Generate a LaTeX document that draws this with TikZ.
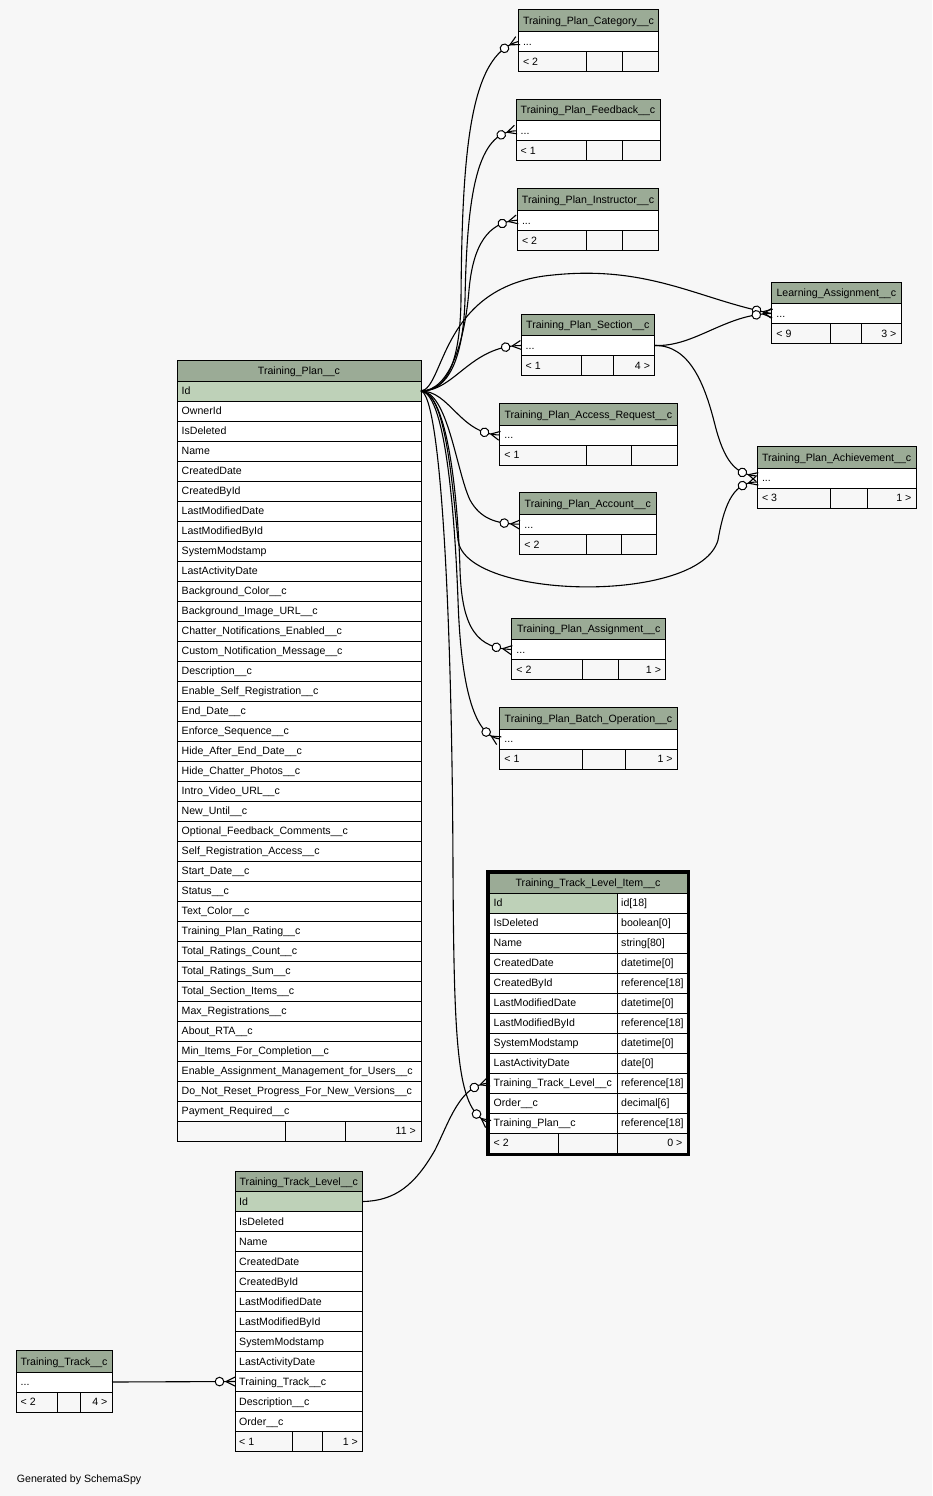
\documentclass[tikz,border=0pt]{standalone}
\usepackage{fontspec}
\setmainfont{Liberation Sans}
\usetikzlibrary{decorations.markings}
\definecolor{bg}{HTML}{F7F7F7}
\definecolor{hdr}{HTML}{9BAB96}
\definecolor{pk}{HTML}{BED1B8}
\tikzset{
  cell/.style={draw=black, line width=1pt, anchor=north west, inner sep=0pt, outer sep=0pt},
  cellline/.style={draw=black, line width=1pt},
  ltxt/.style={anchor=base west, inner sep=0pt, font=\fontsize{10.6}{12.7}\selectfont},
  rtxt/.style={anchor=base east, inner sep=0pt, font=\fontsize{10.6}{12.7}\selectfont},
  ctxt/.style={anchor=base, inner sep=0pt, font=\fontsize{10.6}{12.7}\selectfont},
  rel/.style={draw=black, line width=1.1pt},
  crowend/.style={postaction={decorate, decoration={markings,
      mark=at position -15.5pt with {\draw[fill=white, line width=1pt] (0,0) circle (4.3pt);},
      mark=at position -9pt with {\draw[line width=1.1pt] (0,0) -- (9pt,4.5pt) (0,0) -- (9pt,-4.5pt);}}}}
}
% compact table: name, left, right, top, title, divider 1, divider 2, left count, right count
\newcommand\stab[9]{%
  \node[cell, fill=hdr, minimum width={(#3-#2)*1pt}, minimum height=21.5pt] (#1-h) at (#2,#4) {};
  \node[ctxt] (#1-ht) at ({(#2+#3)/2},{#4+10.75+3.8}) {#5};
  \node[cell, fill=white, minimum width={(#3-#2)*1pt}, minimum height=20pt] (#1-r) at (#2,{#4+21.5}) {};
  \node[ltxt] (#1-rt) at ({#2+4.5},{#4+31.5+3.8}) {...};
  \node[cell, fill=bg, minimum width={(#3-#2)*1pt}, minimum height=20pt] (#1-f) at (#2,{#4+41.5}) {};
  \draw[cellline] (#6,{#4+41.5}) -- (#6,{#4+61.5}) (#7,{#4+41.5}) -- (#7,{#4+61.5});
  \node[ltxt] (#1-fl) at ({#2+4.5},{#4+51.5+3.8}) {#8};
  \node[rtxt] (#1-fr) at ({#3-4.5},{#4+51.5+3.8}) {#9};
}
\begin{document}
\catcode`\_=12
\begin{tikzpicture}[x=1pt, y=-1pt]
\useasboundingbox (0,0) rectangle (932,1496);
\fill[bg] (0,0) rectangle (932,1496);

% ---- Training_Plan__c ----
\node[cell, fill=hdr, minimum width=244pt, minimum height=21pt] (tp-h) at (177,360) {};
\node[ctxt] (tp-ht) at (299,{370.5+3.8}) {Training_Plan__c};
\node[cell, fill=pk, minimum width=244pt, minimum height=20pt] (tp-0) at (177,381) {};
\node[ltxt] (tp-0-t) at (181.5,{391+3.8}) {Id};
\foreach \f [count=\i from 1] in {OwnerId,IsDeleted,Name,CreatedDate,CreatedById,LastModifiedDate,LastModifiedById,SystemModstamp,LastActivityDate,Background_Color__c,Background_Image_URL__c,Chatter_Notifications_Enabled__c,Custom_Notification_Message__c,Description__c,Enable_Self_Registration__c,End_Date__c,Enforce_Sequence__c,Hide_After_End_Date__c,Hide_Chatter_Photos__c,Intro_Video_URL__c,New_Until__c,Optional_Feedback_Comments__c,Self_Registration_Access__c,Start_Date__c,Status__c,Text_Color__c,Training_Plan_Rating__c,Total_Ratings_Count__c,Total_Ratings_Sum__c,Total_Section_Items__c,Max_Registrations__c,About_RTA__c,Min_Items_For_Completion__c,Enable_Assignment_Management_for_Users__c,Do_Not_Reset_Progress_For_New_Versions__c,Payment_Required__c} {
  \node[cell, fill=white, minimum width=244pt, minimum height=20pt] (tp-\i) at (177,{381+20*\i}) {};
  \node[ltxt] (tp-\i-t) at (181.5,{391+20*\i+3.8}) {\f};
}
\node[cell, fill=bg, minimum width=244pt, minimum height=20pt] (tp-f) at (177,1121) {};
\draw[cellline] (285,1121) -- (285,1141) (345,1121) -- (345,1141);
\node[rtxt] (tp-fr) at (416,{1131+3.8}) {11 >};

% ---- related compact tables ----
\stab{cat}{518.3}{658.7}{10}{Training_Plan_Category__c}{586.7}{622.7}{< 2}{}
\stab{fb}{516}{660}{99.3}{Training_Plan_Feedback__c}{586.7}{622.7}{< 1}{}
\stab{ins}{517.3}{658.7}{188.7}{Training_Plan_Instructor__c}{586.7}{622.7}{< 2}{}
\stab{la}{771.7}{901}{282}{Learning_Assignment__c}{830.7}{861}{< 9}{3 >}
\stab{sec}{521}{654.7}{314}{Training_Plan_Section__c}{581}{613.3}{< 1}{4 >}
\stab{ar}{499.7}{677}{403.5}{Training_Plan_Access_Request__c}{586.7}{631.7}{< 1}{}
\stab{ach}{757.3}{916}{446.5}{Training_Plan_Achievement__c}{830.7}{867.7}{< 3}{1 >}
\stab{acc}{519.7}{656}{492.7}{Training_Plan_Account__c}{586.3}{621.3}{< 2}{}
\stab{asg}{511.7}{665.7}{618}{Training_Plan_Assignment__c}{582.7}{618.7}{< 2}{1 >}
\stab{bat}{499.7}{677.3}{707.5}{Training_Plan_Batch_Operation__c}{582.7}{625.3}{< 1}{1 >}
\stab{tt}{16}{112}{1350.5}{Training_Track__c}{57.3}{80}{< 2}{4 >}

% ---- Training_Track_Level_Item__c ----
\node[cell, fill=hdr, minimum width=198pt, minimum height=20pt] (ttli-h) at (489,873) {};
\node[ctxt] (ttli-ht) at (588,{883+3.8}) {Training_Track_Level_Item__c};
\foreach \f/\t [count=\i from 0] in {Id/id[18],IsDeleted/boolean[0],Name/string[80],CreatedDate/datetime[0],CreatedById/reference[18],LastModifiedDate/datetime[0],LastModifiedById/reference[18],SystemModstamp/datetime[0],LastActivityDate/date[0],Training_Track_Level__c/reference[18],Order__c/decimal[6],Training_Plan__c/reference[18]} {
  \node[cell, fill=white, minimum width=128pt, minimum height=20pt] (ttli-\i) at (489,{893+20*\i}) {};
  \node[cell, fill=white, minimum width=70pt, minimum height=20pt] (ttli-\i-ty) at (617,{893+20*\i}) {};
  \node[ltxt] (ttli-\i-t) at (493.5,{903+20*\i+3.8}) {\f};
  \node[ltxt] (ttli-\i-tt) at (621,{903+20*\i+3.8}) {\t};
}
\node[cell, fill=pk, minimum width=128pt, minimum height=20pt] (ttli-pk) at (489,893) {};
\node[ltxt] (ttli-pk-t) at (493.5,{903+3.8}) {Id};
\node[cell, fill=bg, minimum width=198pt, minimum height=20pt] (ttli-f) at (489,1133) {};
\draw[cellline] (558.7,1133) -- (558.7,1153) (617,1133) -- (617,1153);
\node[ltxt] (ttli-fl) at (493.5,{1143+3.8}) {< 2};
\node[rtxt] (ttli-fr) at (682.5,{1143+3.8}) {0 >};
\draw[line width=2.6pt] (487.3,871.3) rectangle (688.7,1154.7);

% ---- Training_Track_Level__c ----
\node[cell, fill=hdr, minimum width=127.5pt, minimum height=20.5pt] (ttl-h) at (235,1171) {};
\node[ctxt] (ttl-ht) at (298.75,{1181.25+3.8}) {Training_Track_Level__c};
\node[cell, fill=pk, minimum width=127.5pt, minimum height=20pt] (ttl-0) at (235,1191.5) {};
\node[ltxt] (ttl-0-t) at (239,{1201.5+3.8}) {Id};
\foreach \f [count=\i from 1] in {IsDeleted,Name,CreatedDate,CreatedById,LastModifiedDate,LastModifiedById,SystemModstamp,LastActivityDate,Training_Track__c,Description__c,Order__c} {
  \node[cell, fill=white, minimum width=127.5pt, minimum height=20pt] (ttl-\i) at (235,{1191.5+20*\i}) {};
  \node[ltxt] (ttl-\i-t) at (239,{1201.5+20*\i+3.8}) {\f};
}
\node[cell, fill=bg, minimum width=127.5pt, minimum height=20pt] (ttl-f) at (235,1431.5) {};
\draw[cellline] (292,1431.5) -- (292,1451.5) (322.5,1431.5) -- (322.5,1451.5);
\node[ltxt] (ttl-fl) at (239,{1441.5+3.8}) {< 1};
\node[rtxt] (ttl-fr) at (358,{1441.5+3.8}) {1 >};

% ---- relationships ----
\draw[rel, crowend] (tp-0.east) .. controls (448,391) and (460,360) .. (461,300) .. controls (462,150) and (470,55) .. (cat-r.west);
\draw[rel, crowend] (tp-0.east) .. controls (448,391) and (463,360) .. (465,300) .. controls (467,190) and (478,132) .. (fb-r.west);
\draw[rel, crowend] (tp-0.east) .. controls (450,391) and (465,340) .. (469,290) .. controls (473,245) and (488,222) .. (ins-r.west);
\draw[rel, crowend] (tp-0.east) .. controls (445,388) and (440,285) .. (553,275) .. controls (650,265) and (700,300) .. (la-r.west);
\draw[rel, crowend] (tp-0.east) .. controls (455,391) and (470,346) .. (sec-r.west);
\draw[rel, crowend] (tp-0.east) .. controls (450,391) and (460,434) .. (ar-r.west);
\draw[rel, crowend] (tp-0.east) .. controls (445,391) and (452,480) .. (458,540) .. controls (465,600) and (700,605) .. (718,540) .. controls (725,500) and (735,482) .. ([yshift=-4pt]ach-r.west);
\draw[rel, crowend] (tp-0.east) .. controls (448,392) and (456,470) .. (470,500) .. controls (480,518) and (495,524) .. (acc-r.west);
\draw[rel, crowend] (tp-0.east) .. controls (448,393) and (458,500) .. (460,570) .. controls (462,630) and (478,648) .. (asg-r.west);
\draw[rel, crowend] (tp-0.east) .. controls (446,393) and (455,520) .. (458,600) .. controls (461,690) and (475,736) .. (bat-r.west);
\draw[rel, crowend] (tp-0.east) .. controls (440,395) and (452,600) .. (453,870) .. controls (454,1060) and (458,1110) .. (ttli-11.west);
\draw[rel, crowend] (sec-r.east) .. controls (695,347) and (725,314) .. (la-r.west);
\draw[rel, crowend] (sec-r.east) .. controls (690,345) and (705,385) .. (715,425) .. controls (724,460) and (735,475) .. ([yshift=2pt]ach-r.west);
\draw[rel, crowend] (ttl-0.east) .. controls (395,1201) and (415,1185) .. (435,1150) .. controls (450,1120) and (460,1085) .. (ttli-9.west);
\draw[rel, crowend] (tt-r.east) -- (ttl-9.west);

\node[ltxt] (gen) at (16.7,{1478.3+3.8}) {Generated by SchemaSpy};
\end{tikzpicture}
\end{document}
